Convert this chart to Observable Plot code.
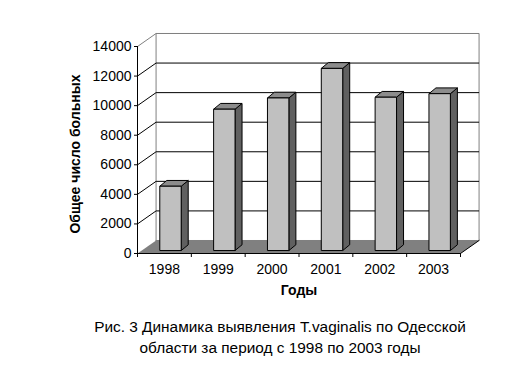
<!DOCTYPE html>
<html><head><meta charset="utf-8">
<script src="https://cdn.jsdelivr.net/npm/d3@7"></script>
<script src="https://cdn.jsdelivr.net/npm/@observablehq/plot@0.6"></script>
<style>
body{margin:0;background:#fff;font-family:"Liberation Sans",Arial,sans-serif;}
#chart svg{display:block;}
#cap{width:528px;padding-left:32px;box-sizing:border-box;text-align:center;font-size:15.4px;line-height:21px;margin-top:6px;color:#000}
</style></head><body>
<div id="chart"></div>
<div id="cap">Рис. 3 Динамика выявления T.vaginalis по Одесской<br>области за период с 1998 по 2003 годы</div>
<script>
const years = ["1998", "1999", "2000", "2001", "2002", "2003"];
const values = [4350, 9560, 10320, 12320, 10370, 10610];
const yTicks = [0, 2000, 4000, 6000, 8000, 10000, 12000, 14000];
const yMax = 14000;
const xTitle = "Годы";
const yTitle = "Общее число больных";

// 3D geometry (data units)
const n = years.length;
const wallDX = 0.345, wallDY = 880;
const barX0 = 0.414, barW = 0.398, barBase = 200, barDX = 0.13, barDY = 390;

function poly(id, pts) { return pts.concat([pts[0]]).map(([x, y]) => ({id, x, y})); }

const backWall = poly("wall", [[wallDX, wallDY], [wallDX, yMax + wallDY], [n + wallDX, yMax + wallDY], [n + wallDX, wallDY]]);
const gridLines = yTicks.filter(t => t > 0).flatMap(t =>
  [[0, t], [wallDX, t + wallDY], [n + wallDX, t + wallDY]].map(([x, y]) => ({id: t, x, y, top: t === yMax})));
const floor = poly("floor", [[0, 0], [n, 0], [n + wallDX, wallDY], [wallDX, wallDY]]);
const floorEdge = [{x: n, y: 0}, {x: n + wallDX, y: wallDY}];

const fronts = [], sides = [], tops = [];
values.forEach((v, i) => {
  const x0 = i + barX0, x1 = x0 + barW, yb = barBase, yt = v + barBase;
  fronts.push(...poly(i, [[x0, yb], [x0, yt], [x1, yt], [x1, yb]]));
  sides.push(...poly(i, [[x1, yb], [x1, yt], [x1 + barDX, yt + barDY], [x1 + barDX, yb + barDY]]));
  tops.push(...poly(i, [[x0, yt], [x0 + barDX, yt + barDY], [x1 + barDX, yt + barDY], [x1, yt]]));
});

const lineOpts = (fill) => ({x: "x", y: "y", z: "id", fill, stroke: "black", strokeWidth: 1, strokeLinejoin: "miter", strokeLinecap: "butt"});

const chart = Plot.plot({
  width: 528,
  height: 310,
  marginLeft: 137,
  marginRight: 68,
  marginTop: 46,
  marginBottom: 57,
  style: {fontFamily: '"Liberation Sans", Arial, sans-serif', fontSize: "14px", color: "black", background: "white", overflow: "visible"},
  x: {domain: [0, n]},
  y: {domain: [0, yMax]},
  marks: [
    Plot.line(backWall, {x: "x", y: "y", z: "id", fill: "white", stroke: "#808080", strokeWidth: 1, strokeLinejoin: "miter"}),
    Plot.line(gridLines, {x: "x", y: "y", z: "id", stroke: d => d.top ? "#808080" : "black", strokeWidth: 1, strokeLinecap: "butt"}),
    Plot.line(floor, {x: "x", y: "y", z: "id", fill: "#808080", stroke: "none"}),
    Plot.line(floorEdge, {x: "x", y: "y", stroke: "black", strokeWidth: 1}),
    Plot.line(sides, lineOpts("#606060")),
    Plot.line(tops, lineOpts("#8c8c8c")),
    Plot.line(fronts, lineOpts("#c0c0c0")),
    Plot.ruleX([0], {y1: 0, y2: yMax, stroke: "black", strokeWidth: 1}),
    Plot.ruleY([0], {x1: 0, x2: n, stroke: "black", strokeWidth: 1}),
    Plot.axisY(yTicks, {tickSize: 3, tickPadding: 3, label: null, tickFormat: d => String(d), fontSize: 14, stroke: "black", fill: "black"}),
    Plot.axisX(d3.range(n + 1), {tickSize: 4, tickFormat: () => "", label: null, stroke: "black"}),
    Plot.text(years, {x: (d, i) => i + 0.5, y: 0, dy: 16, text: d => d, fontSize: 14, fill: "black"}),
    Plot.text([xTitle], {frameAnchor: "bottom", dy: 41, textAnchor: "middle", fontWeight: "bold", fontSize: 14, fill: "black"}),
    Plot.text([yTitle], {frameAnchor: "left", dx: -62, dy: 4, textAnchor: "middle", rotate: -90, fontWeight: "bold", fontSize: 14, fill: "black"})
  ]
});
document.getElementById("chart").appendChild(chart);
</script>
</body></html>
